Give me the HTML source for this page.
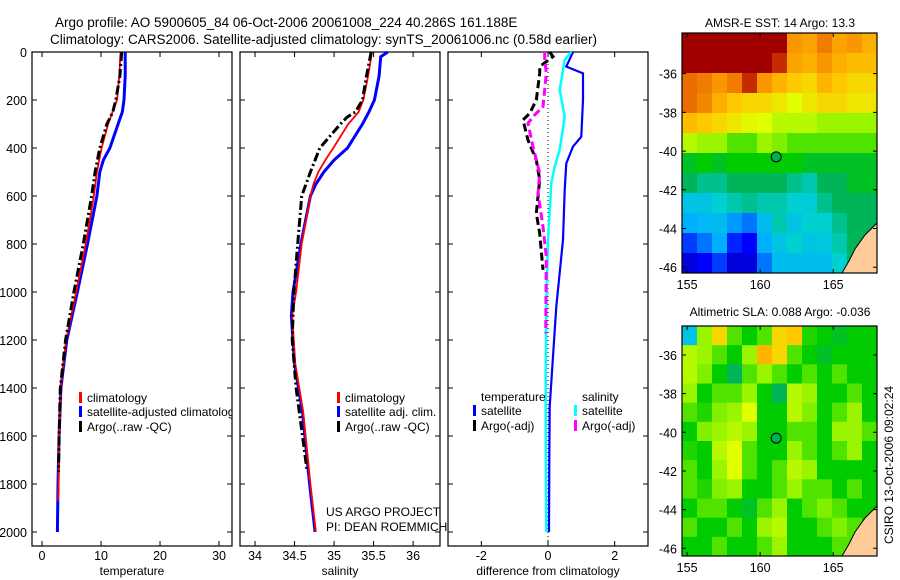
<!DOCTYPE html>
<html><head><meta charset="utf-8"><style>
body{margin:0;background:#fff;}
svg{display:block;font-family:"Liberation Sans",sans-serif;}
</style></head><body>
<svg id="fig" width="900" height="580" viewBox="0 0 900 580" xmlns="http://www.w3.org/2000/svg">
<defs>
<clipPath id="c1"><rect x="32" y="52" width="200" height="494"/></clipPath>
<clipPath id="cm1"><rect x="682" y="33" width="195" height="240"/></clipPath>
<clipPath id="cm2"><rect x="682" y="326" width="195" height="230"/></clipPath>
</defs>
<text x="55" y="27" font-size="13.5">Argo profile: AO 5900605_84 06-Oct-2006 20061008_224 40.286S 161.188E</text>
<text x="50" y="44" font-size="13.5">Climatology: CARS2006. Satellite-adjusted climatology: synTS_20061006.nc (0.58d earlier)</text>
<g id="g"></g>
<text x="780" y="27" font-size="12" text-anchor="middle">AMSR-E SST: 14 Argo: 13.3</text>
<text x="780" y="316" font-size="12" text-anchor="middle">Altimetric SLA: 0.088 Argo: -0.036</text>
<text transform="translate(893,465) rotate(-90)" font-size="12" text-anchor="middle">CSIRO 13-Oct-2006 09:02:24</text>
</svg>
<script>
// ---- data ----
const depthTicks=[0,200,400,600,800,1000,1200,1400,1600,1800,2000];
const tempTicks=[0,10,20,30];
const salTicks=[34,34.5,35,35.5,36];
const salTickLabels=["34","34.5","35","35.5","36"];
const diffTicks=[-2,0,2];
const clDepth=[0,100,200,300,400,500,600,800,1000,1200,1400,1600,1800,1870];
const clTemp=[13.3,13.1,12.7,11.2,10.1,9.3,8.8,7.4,5.8,4.1,3.2,2.9,2.8,2.7];
const saDepth=[0,100,200,250,300,400,450,500,600,800,1000,1200,1400,1600,1800,2000];
const saTemp=[14.1,14.1,13.9,13.6,12.9,11.5,10.4,9.8,9.3,7.7,6.0,4.2,3.2,2.9,2.7,2.6];
const arDepth=[0,100,200,250,300,400,500,600,800,1000,1200,1400,1600,1750];
const arTemp=[13.5,13.2,12.5,12.0,11.0,9.8,9.0,8.4,7.0,5.4,4.0,3.1,2.9,2.8];
const clSalDepth=[0,100,200,250,300,400,450,500,550,600,800,1000,1100,1300,1500,1800,2000];
const clSal=[35.48,35.43,35.37,35.31,35.18,34.99,34.89,34.80,34.74,34.70,34.59,34.52,34.47,34.51,34.61,34.70,34.77];
const saSalDepth=[0,20,100,200,250,300,400,450,500,550,600,800,1000,1100,1300,1500,1800,2000];
const saSal=[35.68,35.59,35.57,35.51,35.44,35.36,35.17,35.0,34.87,34.77,34.70,34.58,34.48,34.46,34.50,34.60,34.69,34.76];
const arSalDepth=[0,100,200,250,270,300,400,500,600,800,1000,1200,1400,1600,1750];
const arSal=[35.47,35.41,35.36,35.27,35.17,35.08,34.82,34.70,34.59,34.54,34.49,34.47,34.52,34.60,34.66];
const dTsD=[0,61,89,200,353,394,464,575,783,1061,1269,1478,1700,2000];
const dTs=[0.75,0.55,1.05,1.05,1.0,0.75,0.55,0.5,0.45,0.25,0.15,0.05,0.04,0.03];
const dSsD=[0,33,158,270,408,478,547,783,1061,1339,1600,2000];
const dSs=[0.7,0.5,0.35,0.5,0.35,0.2,0.1,0.0,-0.05,-0.07,-0.07,-0.05];
const dTaD=[0,19,61,89,200,256,283,367,450,533,672,756,908];
const dTa=[0.05,0.15,-0.25,-0.25,-0.35,-0.55,-0.75,-0.6,-0.35,-0.25,-0.35,-0.25,-0.15];
const dSaD=[0,26,89,228,262,297,394,505,589,728,853,1172];
const dSa=[-0.1,-0.1,-0.05,-0.15,-0.4,-0.6,-0.45,-0.25,-0.3,-0.15,-0.05,-0.07];
const sstGrid=[
[1,1,1,1,1,1,1,.8,.78,.85,.78,.8,.76],
[1,1,1,1,1,1,.95,.78,.76,.8,.76,.74,.74],
[.88,.85,.8,.85,.95,.8,.75,.72,.7,.75,.72,.7,.7],
[.88,.83,.76,.72,.7,.7,.68,.65,.68,.7,.7,.68,.68],
[.74,.72,.7,.68,.66,.65,.62,.62,.62,.6,.6,.6,.6],
[.62,.6,.6,.55,.55,.6,.58,.55,.55,.55,.55,.55,.55],
[.48,.5,.48,.5,.5,.5,.5,.5,.48,.48,.48,.48,.48],
[.45,.42,.42,.45,.45,.45,.45,.42,.4,.45,.45,.48,.48],
[.35,.35,.38,.4,.42,.4,.4,.38,.37,.42,.45,.45,.45],
[.3,.32,.33,.28,.25,.33,.4,.35,.38,.38,.42,.45,.45],
[.2,.25,.3,.18,.15,.3,.35,.38,.35,.36,.4,.45,.45],
[.1,.15,.2,.1,.1,.25,.33,.33,.33,.33,.38,.45,.45]];
const slaGrid=[
[.35,.6,.7,.55,.5,.55,.7,.72,.52,.5,.48,.5,.5],
[.62,.6,.55,.5,.6,.75,.7,.55,.5,.48,.5,.5,.5],
[.62,.58,.5,.45,.55,.6,.55,.5,.55,.5,.55,.5,.5],
[.6,.5,.55,.55,.6,.5,.45,.62,.6,.5,.5,.55,.5],
[.55,.52,.58,.6,.65,.5,.5,.62,.58,.5,.55,.6,.5],
[.5,.58,.6,.62,.6,.5,.5,.55,.55,.5,.6,.6,.55],
[.52,.5,.62,.65,.55,.5,.5,.6,.55,.5,.55,.6,.5],
[.55,.5,.6,.65,.55,.5,.55,.62,.6,.5,.5,.5,.5],
[.55,.52,.58,.6,.5,.5,.55,.6,.55,.55,.5,.55,.5],
[.5,.55,.55,.5,.48,.55,.6,.5,.55,.58,.55,.5,.5],
[.55,.5,.5,.55,.5,.6,.62,.5,.5,.55,.58,.55,.5],
[.5,.5,.55,.5,.5,.55,.6,.5,.5,.5,.55,.55,.5]];
const lonTicks=[155,160,165];
const latTicks=[-36,-38,-40,-42,-44,-46];
const argoLon=161.1, argoLat=-40.3;

// ---- helpers ----
const NS="http://www.w3.org/2000/svg";
const G=document.getElementById('g');
function mk(tag,attrs,parent){const e=document.createElementNS(NS,tag);for(const k in attrs)e.setAttribute(k,attrs[k]);(parent||G).appendChild(e);return e;}
const yTop=52,yBot=546;
const yD=d=>yTop+d*0.24;
function panel(x0,x1,xmin,xmax,ticks,labels,xlabel,name,leftLabels){
  const sx=v=>x0+(v-xmin)/(xmax-xmin)*(x1-x0);
  const box=mk('rect',{x:x0,y:yTop,width:x1-x0,height:yBot-yTop,fill:'#fff',stroke:'#000','stroke-width':1.2});
  
  
  depthTicks.forEach(d=>{
    const y=yD(d);
    const t=mk('path',{d:`M${x0} ${y}h5M${x1} ${y}h-5`,stroke:'#000'});
    
    
    if(leftLabels){const l=mk('text',{x:x0-5,y:y+5,'font-size':12.5,'text-anchor':'end'});l.textContent=d;
      
      }
  });
  ticks.forEach((v,i)=>{
    const x=sx(v);
    const t=mk('path',{d:`M${x} ${yBot}v-5M${x} ${yTop}v5`,stroke:'#000'});
    
    
    const l=mk('text',{x:x,y:560,'font-size':12.5,'text-anchor':'middle'});l.textContent=labels[i];
    
    
  });
  const xl=mk('text',{x:(x0+x1)/2,y:575,'font-size':12,'text-anchor':'middle'});xl.textContent=xlabel;
  
  
  return sx;
}
function line(sx,vals,depths,style,name,clip){
  const d=vals.map((v,i)=>(i?'L':'M')+sx(v).toFixed(1)+' '+yD(depths[i]).toFixed(1)).join('');
  const a=Object.assign({d:d,fill:'none'},style);
  if(clip)a['clip-path']=clip;
  const p=mk('path',a);
  
  
}
function legendEntry(x,y,color,label,name,clip){
  const m=mk('rect',{x:x,y:y-10,width:3,height:11,fill:color});
  
  
  const a={x:x+8,y:y,'font-size':12};if(clip)a['clip-path']=clip;
  const t=mk('text',a);t.textContent=label;
  
  
}
const RED={stroke:'#ff0000','stroke-width':1.8};
const BLUE={stroke:'#0000ff','stroke-width':3};
const BLK={stroke:'#000','stroke-width':3,'stroke-dasharray':'9 3 2 3'};

// panel 1 temperature
const s1=panel(32,232,-1.7,32.2,tempTicks,tempTicks.map(String),'temperature','temperature-panel',true);
line(s1,saTemp,saDepth,BLUE,'temp-satellite-adjusted-line');
line(s1,clTemp,clDepth,RED,'temp-climatology-line');
line(s1,arTemp,arDepth,BLK,'temp-argo-line');
legendEntry(79,402,'#ff0000','climatology','legend-climatology','url(#c1)');
legendEntry(79,416,'#0000ff','satellite-adjusted climatology','legend-satellite-adjusted','url(#c1)');
legendEntry(79,431,'#000','Argo(..raw -QC)','legend-argo','url(#c1)');

// panel 2 salinity
const s2=panel(240,440,33.81,36.34,salTicks,salTickLabels,'salinity','salinity-panel',false);
line(s2,saSal,saSalDepth,BLUE,'sal-satellite-adjusted-line');
line(s2,clSal,clSalDepth,RED,'sal-climatology-line');
line(s2,arSal,arSalDepth,BLK,'sal-argo-line');
legendEntry(337,402,'#ff0000','climatology','legend-sal-climatology');
legendEntry(337,416,'#0000ff','satellite adj. clim.','legend-sal-satellite');
legendEntry(337,431,'#000','Argo(..raw -QC)','legend-sal-argo');

// panel 3 difference
const s3=panel(448,648,-3.0,3.0,diffTicks,diffTicks.map(String),'difference from climatology','difference-panel',false);
line(s3,[0,0],[0,2060*0.999],{stroke:'#000','stroke-width':1,'stroke-dasharray':'1 3'},'zero-line');
line(s3,dTs,dTsD,{stroke:'#0000ff','stroke-width':2.2},'diff-temp-satellite-line');
line(s3,dSs,dSsD,{stroke:'#00ffff','stroke-width':2.5},'diff-sal-satellite-line');
line(s3,dTa,dTaD,{stroke:'#000','stroke-width':3,'stroke-dasharray':'8 4'},'diff-temp-argo-line');
line(s3,dSa,dSaD,{stroke:'#ff00ff','stroke-width':3,'stroke-dasharray':'8 4'},'diff-sal-argo-line');
[[481,401,'temperature','legend-temperature-heading'],[582,401,'salinity','legend-salinity-heading']].forEach(h=>{
  const t=mk('text',{x:h[0],y:h[1],'font-size':12});t.textContent=h[2];
  
  
});
legendEntry(473,415,'#0000ff','satellite','legend-temp-satellite');
legendEntry(473,430,'#000','Argo(-adj)','legend-temp-argo');
legendEntry(574,415,'#00ffff','satellite','legend-sal-satellite-diff');
legendEntry(574,430,'#ff00ff','Argo(-adj)','legend-sal-argo-diff');

const pt=mk('text',{x:326,y:516,'font-size':12});pt.textContent='US ARGO PROJECT';


const pi=mk('text',{x:326,y:531,'font-size':12});pi.textContent='PI: DEAN ROEMMICH';



// ---- maps ----
const stops=[[0,[0,0,143]],[.15,[0,0,255]],[.3,[0,176,255]],[.38,[0,208,208]],[.45,[0,180,90]],[.5,[0,204,0]],[.58,[128,240,0]],[.65,[224,255,0]],[.72,[255,200,0]],[.8,[250,150,0]],[.9,[230,100,0]],[.96,[190,30,0]],[1,[160,0,0]]];
function cmap(v){for(let i=1;i<stops.length;i++){if(v<=stops[i][0]){const a=stops[i-1],b=stops[i],t=(v-a[0])/(b[0]-a[0]);return 'rgb('+a[1].map((c,k)=>Math.round(c+(b[1][k]-c)*t)).join(',')+')';}}return 'rgb(160,0,0)';}
function map(grid,x0,x1,y0,y1,lat0,lat1,name,clip){
  const lon0=154.65,lon1=168.0;
  const sx=v=>x0+(v-lon0)/(lon1-lon0)*(x1-x0);
  const sy=v=>y0+(lat0-v)/(lat0-lat1)*(y1-y0);
  const rows=grid.length,cols=grid[0].length,cw=(x1-x0)/cols,ch=(y1-y0)/rows;
  grid.forEach((r,i)=>r.forEach((v,j)=>{
    const c=mk('rect',{x:(x0+j*cw).toFixed(2),y:(y0+i*ch).toFixed(2),width:(cw+0.6).toFixed(2),height:(ch+0.6).toFixed(2),fill:cmap(v),'clip-path':clip});
    
    
  }));
  const land=mk('path',{d:`M${x1} ${y1-50}L${x1-12} ${y1-38}L${x1-22} ${y1-24}L${x1-28} ${y1-12}L${x1-35} ${y1}L${x1} ${y1}Z`,fill:'#ffcc99',stroke:'#000','stroke-width':1,'clip-path':clip});
  
  
  const fr=mk('rect',{x:x0,y:y0,width:x1-x0,height:y1-y0,fill:'none',stroke:'#000','stroke-width':1.2});
  
  
  lonTicks.forEach(v=>{
    const x=sx(v);
    const t=mk('path',{d:`M${x} ${y1}v-4M${x} ${y0}v4`,stroke:'#000'});
    
    
    const l=mk('text',{x:x,y:y1+16,'font-size':12.5,'text-anchor':'middle'});l.textContent=v;
    
    
  });
  latTicks.forEach(v=>{
    const y=sy(v);
    const t=mk('path',{d:`M${x0} ${y}h4M${x1} ${y}h-4`,stroke:'#000'});
    
    
    const l=mk('text',{x:x0-5,y:y+5,'font-size':12.5,'text-anchor':'end'});l.textContent=v;
    
    
  });
  const c=mk('circle',{cx:sx(argoLon),cy:sy(argoLat),r:5,fill:'#00b050',stroke:'#000','stroke-width':1});
  
  
}
map(sstGrid,682,877,33,273,-33.9,-46.3,'sst-map','url(#cm1)');
map(slaGrid,682,877,326,556,-34.5,-46.4,'sla-map','url(#cm2)');
</script>
</body></html>
